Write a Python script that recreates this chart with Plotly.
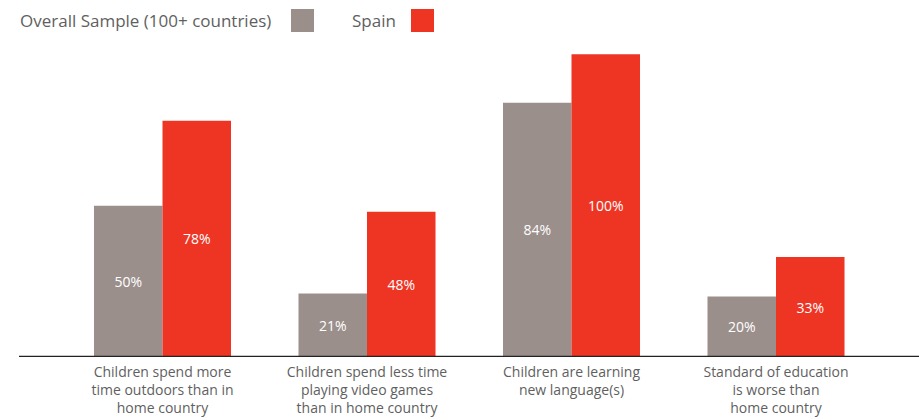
import plotly.graph_objects as go

categories = [
    "Children spend more<br>time outdoors than in<br>home country",
    "Children spend less time<br>playing video games<br>than in home country",
    "Children are learning<br>new language(s)",
    "Standard of education<br>is worse than<br>home country",
]
overall = [50, 21, 84, 20]
spain = [78, 48, 100, 33]
series_names = ["Overall Sample (100+ countries)", "Spain"]

GREY = "#9b8f8c"
RED = "#ee3524"
TEXT = "#5f5f5f"
FONT = "Open Sans, Liberation Sans, Arial, sans-serif"

W, H = 919, 420
ML, MR, MT, MB = 19, 0, 24, 63
plot_w = W - ML - MR

fig = go.Figure()
for name, vals, col in [(series_names[0], overall, GREY), (series_names[1], spain, RED)]:
    fig.add_trace(go.Bar(
        x=list(range(len(categories))), y=vals, name=name,
        marker=dict(color=col, line=dict(width=0)),
        text=[f"{v}%" for v in vals], textposition="inside",
        insidetextanchor="middle",
        textfont=dict(color="white", size=14, family=FONT),
        showlegend=False,
    ))

# x range so that group centres are ~204.5px apart, first centre at 162.5px
unit = 204.5
r0 = -(162.5 - ML) / unit
r1 = r0 + plot_w / unit

fig.update_layout(
    width=W, height=H,
    margin=dict(l=ML, r=MR, t=MT, b=MB),
    paper_bgcolor="white", plot_bgcolor="white",
    barmode="group", bargap=0.33, bargroupgap=0,
    font=dict(family=FONT, color=TEXT, size=14),
    xaxis=dict(
        range=[r0, r1], tickmode="array",
        tickvals=list(range(len(categories))), ticktext=categories,
        showgrid=False, zeroline=False, showline=False, ticks="",
        tickfont=dict(size=14, color=TEXT, family=FONT),
        ticklabelstandoff=5,
    ),
    yaxis=dict(range=[0, 110], visible=False, showgrid=False, zeroline=False),
    uniformtext=dict(minsize=10, mode="show"),
)

# baseline
fig.add_shape(type="line", xref="paper", yref="y", x0=0, x1=1, y0=0, y1=0,
              line=dict(color="#222222", width=2.5))

# legend (text then swatch), built from series names
def px(xp):
    return (xp - ML) / plot_w

ph = H - MT - MB
legend_items = [
    (series_names[0], 20, 291, GREY),
    (series_names[1], 352, 411, RED),
]
for name, tx, sx, col in legend_items:
    fig.add_annotation(xref="paper", yref="paper", x=px(tx), y=1 + (MT - 20) / ph,
                       text=name, showarrow=False, xanchor="left", yanchor="middle",
                       xshift=-2,
                       font=dict(size=17, color=TEXT, family=FONT))
    fig.add_shape(type="rect", xref="paper", yref="paper", x0=px(sx), x1=px(sx + 23),
                  y0=1 + (MT - 32) / ph, y1=1 + (MT - 9) / ph,
                  fillcolor=col, line=dict(width=0))

fig.write_html("out.html", config={"displayModeBar": False},
               post_script="document.body.style.margin='0';")
